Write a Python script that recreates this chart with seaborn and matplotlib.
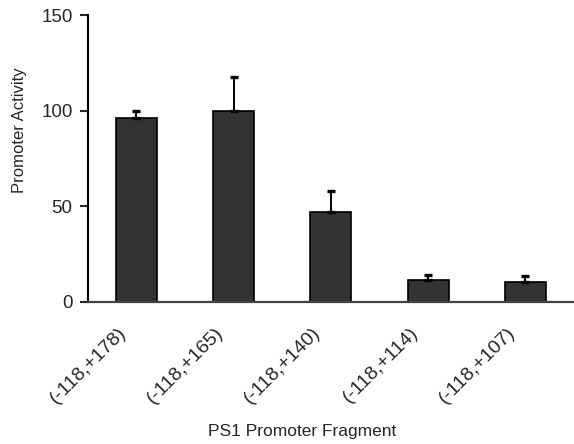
import matplotlib
matplotlib.use("Agg")
import matplotlib.pyplot as plt
import matplotlib.transforms as mtransforms
import seaborn as sns
import pandas as pd

# Data
fragments = ["(-118,+178)", "(-118,+165)", "(-118,+140)", "(-118,+114)", "(-118,+107)"]
activity = [96, 100, 47, 11.5, 10.3]
errors = [4, 17.5, 11, 2.5, 3]

df = pd.DataFrame({"fragment": fragments, "activity": activity})

sns.set_style("ticks")
plt.rcParams["font.family"] = ["Liberation Sans", "DejaVu Sans"]

fig = plt.figure(figsize=(5.74, 4.44), dpi=100)
ax = fig.add_axes([0.153, 0.320, 0.847, 0.646])

sns.barplot(data=df, x="fragment", y="activity", color="#333333",
            edgecolor="black", linewidth=1.2, width=0.42, saturation=1,
            errorbar=None, ax=ax)

# upper-only error bars with caps
ax.errorbar(range(len(fragments)), activity, yerr=[[0] * len(errors), errors],
            fmt="none", ecolor="black", elinewidth=1.4, capsize=3, capthick=2.4)

ax.set_ylim(0, 150)
ax.set_xlim(-0.5, 4.5)
ax.set_yticks([0, 50, 100, 150])
ax.tick_params(axis="y", labelsize=13.5, length=6, width=1.5, pad=5)
ax.tick_params(axis="x", labelsize=14, length=0, pad=16)
shift = mtransforms.ScaledTranslation(-19 / 100, 0, fig.dpi_scale_trans)
for lbl in ax.get_xticklabels():
    lbl.set_rotation(45)
    lbl.set_ha("right")
    lbl.set_rotation_mode("anchor")
    lbl.set_transform(lbl.get_transform() + shift)

ax.set_ylabel("Promoter Activity", fontsize=12)
ax.set_xlabel("PS1 Promoter Fragment", fontsize=12.5)
ax.yaxis.set_label_coords(-0.125, 0.60)
ax.xaxis.set_label_coords(0.44, -0.453)
ax.xaxis.label.set_va("center")

sns.despine(ax=ax)
ax.spines["left"].set_linewidth(1.5)
ax.spines["left"].set_color("black")
ax.spines["bottom"].set_linewidth(1.6)
ax.spines["bottom"].set_color("#444444")

fig.savefig("out.png", dpi=100)
